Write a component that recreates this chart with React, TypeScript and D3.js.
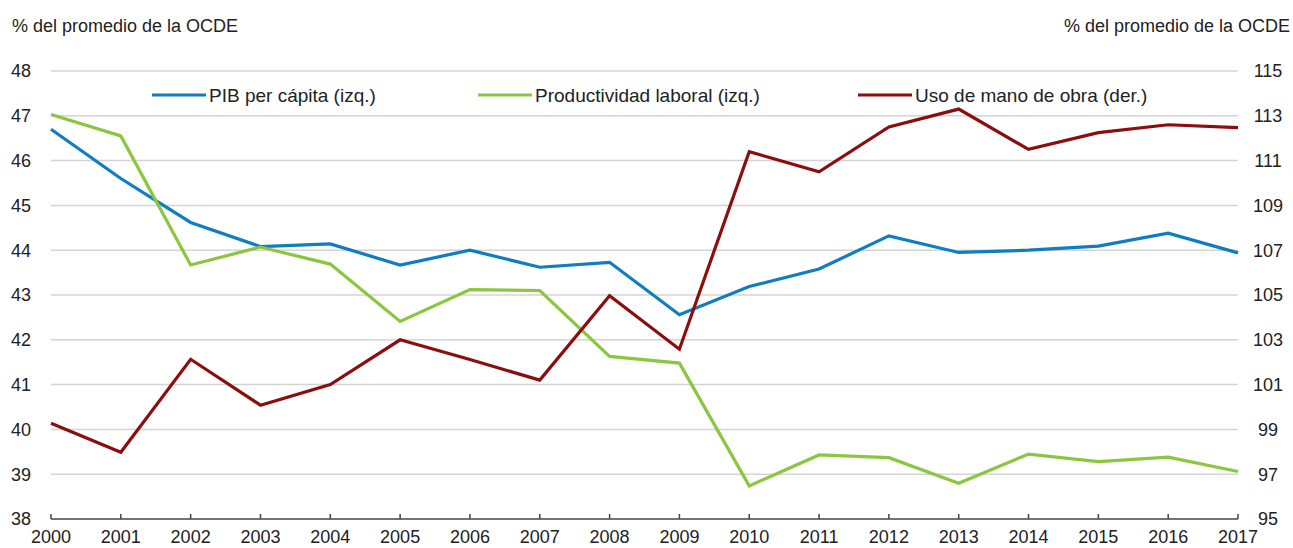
import React from 'react';
import * as d3 from 'd3';

const years = [2000, 2001, 2002, 2003, 2004, 2005, 2006, 2007, 2008, 2009, 2010, 2011, 2012, 2013, 2014, 2015, 2016, 2017];
const pib = [46.7, 45.6, 44.62, 44.08, 44.14, 43.67, 44.0, 43.62, 43.73, 42.56, 43.19, 43.58, 44.32, 43.95, 44.0, 44.09, 44.38, 43.94];
const productividad = [47.03, 46.55, 43.67, 44.07, 43.69, 42.41, 43.12, 43.1, 41.63, 41.48, 38.74, 39.43, 39.37, 38.8, 39.45, 39.28, 39.38, 39.06];
const usoManoObra = [99.27, 97.98, 102.13, 100.08, 101.0, 103.0, 102.12, 101.2, 104.97, 102.58, 111.4, 110.5, 112.5, 113.3, 111.5, 112.25, 112.6, 112.47];
const leftTicks = [38, 39, 40, 41, 42, 43, 44, 45, 46, 47, 48];
const rightTicks = [95, 97, 99, 101, 103, 105, 107, 109, 111, 113, 115];
const axisTitle = '% del promedio de la OCDE';

const series = [
  { name: 'PIB per cápita (izq.)', values: pib, axis: 'left', color: '#0f7dc2', lx: 152 },
  { name: 'Productividad laboral (izq.)', values: productividad, axis: 'left', color: '#8cc63f', lx: 478 },
  { name: 'Uso de mano de obra (der.)', values: usoManoObra, axis: 'right', color: '#8b0d0d', lx: 858 },
];

export default function App() {
  const W = 1293, H = 548;
  const left = 51, right = 1238, top = 71, bottom = 519;
  const x = d3.scaleLinear().domain([2000, 2017]).range([left, right]);
  const yL = d3.scaleLinear().domain([38, 48]).range([bottom, top]);
  const yR = d3.scaleLinear().domain([95, 115]).range([bottom, top]);
  const font = '"Liberation Sans", Arial, sans-serif';

  return (
    <svg width={W} height={H} style={{ position: 'absolute', left: 0, top: 0, background: '#fff' }} fontFamily={font}>
      <text x={12} y={32} fontSize={18} fill="#222">{axisTitle}</text>
      <text x={1290} y={32} fontSize={18} fill="#222" textAnchor="end">{axisTitle}</text>

      {leftTicks.map(t => (
        <g key={t}>
          {t > 38 && <line x1={left} x2={right} y1={yL(t)} y2={yL(t)} stroke="#d4d4d4" strokeWidth={1.5} />}
          <text x={21} y={yL(t)} dy="0.35em" fontSize={18} textAnchor="middle" fill="#222">{t}</text>
        </g>
      ))}
      {rightTicks.map(t => (
        <text key={t} x={1268} y={yR(t)} dy="0.35em" fontSize={18} textAnchor="middle" fill="#222">{t}</text>
      ))}

      <line x1={left} x2={right} y1={bottom} y2={bottom} stroke="#444" strokeWidth={1.5} />
      {years.map(yr => (
        <g key={yr}>
          <line x1={x(yr)} x2={x(yr)} y1={bottom} y2={bottom - 5} stroke="#444" strokeWidth={1.5} />
          <text x={x(yr)} y={543} fontSize={18} textAnchor="middle" fill="#222">{yr}</text>
        </g>
      ))}

      {series.map(s => {
        const yS = s.axis === 'left' ? yL : yR;
        const line = d3.line<number>().x((_, i) => x(years[i])).y(v => yS(v));
        return <path key={s.name} d={line(s.values) || ''} fill="none" stroke={s.color} strokeWidth={3.2} strokeLinejoin="miter" />;
      })}

      {series.map(s => (
        <g key={s.name + 'leg'}>
          <line x1={s.lx} x2={s.lx + 54} y1={95} y2={95} stroke={s.color} strokeWidth={3.2} />
          <text x={s.lx + 57} y={95} dy="0.35em" fontSize={19} fill="#222">{s.name}</text>
        </g>
      ))}
    </svg>
  );
}
